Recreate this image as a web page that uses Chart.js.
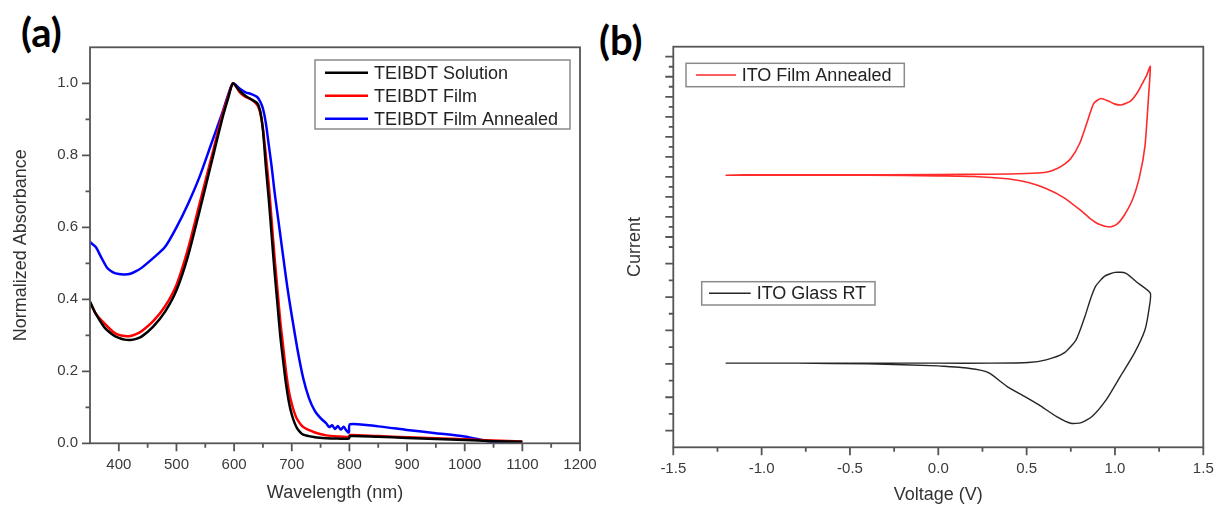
<!DOCTYPE html>
<html>
<head>
<meta charset="utf-8">
<script src="https://cdn.jsdelivr.net/npm/chart.js@4.4.1/dist/chart.umd.min.js"></script>
<style>
  body { margin: 0; background: #fff; width: 1215px; height: 506px; position: relative; overflow: hidden; }
  canvas { position: absolute; top: 0; }
  #absChart { left: 0; }
  #cvChart { left: 607px; }
  .panel { position: absolute; font-family: Lato, sans-serif; font-weight: 700; font-size: 40px; line-height: 1; color: #000; }
</style>
</head>
<body>
<div class="panel" style="left:21px; top:12px;">(a)</div>
<div class="panel" style="left:599px; top:20px;">(b)</div>
<canvas id="absChart" width="607" height="506"></canvas>
<canvas id="cvChart" width="608" height="506"></canvas>
<script>
// UV-vis absorbance (normalized)
const wavelength = [350, 360, 375, 390, 400, 410, 420, 430, 440, 460, 480, 500, 520, 540, 560, 580, 590, 598, 610, 620, 630, 640, 645, 650, 655, 660, 665, 670, 675, 680, 685, 690, 695, 700, 705, 710, 720, 740, 760, 780, 799, 801, 850, 900, 950, 1000, 1050, 1100];
const solution = [0.393, 0.36, 0.322, 0.301, 0.293, 0.288, 0.287, 0.29, 0.297, 0.325, 0.365, 0.425, 0.52, 0.645, 0.775, 0.905, 0.96, 1.0, 0.978, 0.965, 0.955, 0.945, 0.925, 0.87, 0.77, 0.68, 0.58, 0.48, 0.39, 0.3, 0.23, 0.165, 0.115, 0.08, 0.056, 0.04, 0.024, 0.017, 0.014, 0.013, 0.013, 0.02, 0.018, 0.015, 0.012, 0.009, 0.006, 0.004];
const film = [0.393, 0.36, 0.333, 0.31, 0.301, 0.298, 0.298, 0.303, 0.312, 0.34, 0.38, 0.44, 0.54, 0.665, 0.79, 0.915, 0.965, 1.0, 0.975, 0.962, 0.955, 0.94, 0.92, 0.875, 0.8, 0.72, 0.62, 0.52, 0.43, 0.34, 0.27, 0.2, 0.145, 0.11, 0.083, 0.065, 0.045, 0.03, 0.022, 0.019, 0.018, 0.023, 0.02, 0.017, 0.014, 0.011, 0.008, 0.005];

const wavelengthAnnealed = [350, 360, 370, 380, 390, 400, 410, 420, 430, 440, 460, 480, 500, 520, 540, 560, 570, 580, 590, 598, 610, 620, 630, 640, 645, 650, 655, 660, 665, 670, 675, 680, 685, 690, 695, 700, 710, 720, 730, 740, 750, 760, 765, 770, 775, 780, 785, 790, 795, 799, 801, 850, 900, 950, 1000, 1050, 1100];
const filmAnnealed = [0.559, 0.545, 0.515, 0.487, 0.475, 0.47, 0.469, 0.471, 0.478, 0.488, 0.515, 0.545, 0.6, 0.665, 0.74, 0.83, 0.875, 0.92, 0.97, 1.0, 0.985, 0.975, 0.97, 0.962, 0.95, 0.93, 0.89, 0.83, 0.77, 0.7, 0.64, 0.58, 0.52, 0.46, 0.405, 0.355, 0.26, 0.18, 0.125, 0.09, 0.07, 0.055, 0.045, 0.05, 0.04, 0.048, 0.038, 0.046, 0.035, 0.03, 0.053, 0.047, 0.037, 0.028, 0.019, 0.003, 0.0];

const wlMajor = [400, 500, 600, 700, 800, 900, 1000, 1100, 1200];
const wlMinor = [450, 550, 650, 750, 850, 950, 1050, 1150];
const absMajor = [0, 0.2, 0.4, 0.6, 0.8, 1.0];
const absMinor = [0.1, 0.3, 0.5, 0.7, 0.9];

// Cyclic voltammetry, current in arbitrary units (curves offset)
const voltAnnealed = [0.0, -0.4, -0.8, -1.2, -1.1, -0.6, 0.0, 0.3, 0.5, 0.6, 0.65, 0.7, 0.75, 0.8, 0.84, 0.88, 0.92, 0.96, 1.0, 1.04, 1.09, 1.13, 1.16, 1.18, 1.2, 1.19, 1.17, 1.14, 1.1, 1.05, 1.01, 0.97, 0.91, 0.86, 0.81, 0.71, 0.61, 0.51, 0.41, 0.3, 0.2, 0.1, 0.0];
const currAnnealed = [8.13, 8.15, 8.15, 8.15, 8.16, 8.16, 8.17, 8.18, 8.2, 8.23, 8.3, 8.43, 8.65, 9.1, 9.7, 10.3, 10.45, 10.38, 10.28, 10.26, 10.38, 10.65, 10.95, 11.15, 11.41, 10.5, 9.03, 8.13, 7.43, 6.93, 6.68, 6.6, 6.68, 6.85, 7.08, 7.48, 7.75, 7.93, 8.03, 8.08, 8.11, 8.12, 8.13];
const voltGlass = [0.0, -0.4, -0.8, -1.2, -1.0, -0.5, 0.0, 0.3, 0.51, 0.61, 0.71, 0.78, 0.83, 0.86, 0.89, 0.94, 1.0, 1.06, 1.13, 1.2, 1.195, 1.17, 1.11, 1.03, 0.95, 0.87, 0.81, 0.75, 0.67, 0.57, 0.49, 0.39, 0.29, 0.23, 0.13, 0.0];
const currGlass = [2.44, 2.5, 2.52, 2.52, 2.52, 2.52, 2.52, 2.52, 2.54, 2.62, 2.82, 3.22, 3.92, 4.42, 4.82, 5.12, 5.24, 5.22, 4.92, 4.62, 4.22, 3.52, 2.82, 2.12, 1.42, 0.92, 0.74, 0.72, 0.92, 1.27, 1.52, 1.82, 2.22, 2.32, 2.39, 2.44];

const voltMajor = [-1.5, -1.0, -0.5, 0.0, 0.5, 1.0, 1.5];
const voltMinor = [-1.25, -0.75, -0.25, 0.25, 0.75, 1.25];
const currMajor = [0.5, 1.5, 2.5, 3.5, 4.5, 5.5, 6.3, 6.9, 7.5, 8.1, 8.7, 9.3, 9.9, 10.5, 11.1, 11.7];
const currMinor = [1, 2, 3, 4, 5, 6, 6.6, 7.2, 7.8, 8.4, 9.0, 9.6, 10.2, 10.8, 11.4];

Chart.defaults.font.family = "'Liberation Sans', Arial, sans-serif";
Chart.defaults.color = '#3a3a3a';

const toXY = (xs, ys) => xs.map((x, i) => ({x: x, y: ys[i]}));

// fixed axis box, no extra room for end labels
const fitX = h => s => { s.height = h; s.paddingLeft = 0; s.paddingRight = 0; };
const fitY = w => s => { s.width = w; s.paddingTop = 0; s.paddingBottom = 0; };

// boxed frame with outward major/minor ticks
const originAxes = {
  id: 'originAxes',
  afterDraw(chart, args, opts) {
    const {ctx, chartArea: a, scales: {x, y}} = chart;
    ctx.save();
    ctx.strokeStyle = '#555';
    ctx.lineWidth = 1.8;
    ctx.strokeRect(a.left, a.top, a.right - a.left, a.bottom - a.top);
    ctx.beginPath();
    opts.xMajor.forEach(v => { const p = x.getPixelForValue(v); ctx.moveTo(p, a.bottom); ctx.lineTo(p, a.bottom + 8); });
    opts.xMinor.forEach(v => { const p = x.getPixelForValue(v); ctx.moveTo(p, a.bottom); ctx.lineTo(p, a.bottom + 4.5); });
    opts.yMajor.forEach(v => { const p = y.getPixelForValue(v); ctx.moveTo(a.left, p); ctx.lineTo(a.left - 8, p); });
    opts.yMinor.forEach(v => { const p = y.getPixelForValue(v); ctx.moveTo(a.left, p); ctx.lineTo(a.left - 4.5, p); });
    ctx.stroke();
    ctx.restore();
  }
};

// legend boxes placed inside the plot
const boxLegend = {
  id: 'boxLegend',
  afterDraw(chart, args, opts) {
    const ctx = chart.ctx;
    ctx.save();
    opts.boxes.forEach(b => {
      ctx.strokeStyle = '#8a8a8a';
      ctx.lineWidth = 1.5;
      ctx.strokeRect(b.x, b.y, b.w, b.h);
      b.items.forEach((idx, i) => {
        const ds = chart.data.datasets[idx];
        const cy = b.y + b.first + i * b.row;
        ctx.strokeStyle = ds.borderColor;
        ctx.lineWidth = ds.borderWidth;
        ctx.beginPath();
        ctx.moveTo(b.x + b.lineStart, cy);
        ctx.lineTo(b.x + b.lineEnd, cy);
        ctx.stroke();
        ctx.fillStyle = '#222';
        ctx.font = "18px 'Liberation Sans', Arial, sans-serif";
        ctx.textBaseline = 'middle';
        ctx.fillText(ds.label, b.x + b.textStart, cy + 1);
      });
    });
    ctx.restore();
  }
};

new Chart("absChart", {
  type: "line",
  data: {
    datasets: [
      { label: "TEIBDT Solution", data: toXY(wavelength, solution), borderColor: "#000000", borderWidth: 2.5 },
      { label: "TEIBDT Film", data: toXY(wavelength, film), borderColor: "#ff0000", borderWidth: 2.5 },
      { label: "TEIBDT Film Annealed", data: toXY(wavelengthAnnealed, filmAnnealed), borderColor: "#0000ff", borderWidth: 2.5 }
    ]
  },
  options: {
    responsive: false,
    animation: false,
    elements: { point: { radius: 0 }, line: { tension: 0.25 } },
    layout: { padding: { left: 0, top: 47.3, right: 27, bottom: 0 } },
    scales: {
      x: {
        type: "linear", min: 350, max: 1200,
        afterBuildTicks: s => { s.ticks = wlMajor.map(v => ({value: v})); },
        afterFit: fitX(62.7),
        grid: { display: false },
        border: { display: false },
        ticks: { font: { size: 15 }, padding: 5, maxRotation: 0, callback: v => String(v) },
        title: { display: true, text: "Wavelength (nm)", font: { size: 18 }, color: '#333', padding: { bottom: 2 } }
      },
      y: {
        min: 0, max: 1.1,
        afterBuildTicks: s => { s.ticks = absMajor.map(v => ({value: v})); },
        afterFit: fitY(90),
        grid: { display: false },
        border: { display: false },
        ticks: { font: { size: 15 }, padding: 4, callback: v => v.toFixed(1) },
        title: { display: true, text: "Normalized Absorbance", font: { size: 18 }, color: '#333', padding: { top: 10 } }
      }
    },
    plugins: {
      legend: { display: false },
      tooltip: { enabled: false },
      originAxes: { xMajor: wlMajor, xMinor: wlMinor, yMajor: absMajor, yMinor: absMinor },
      boxLegend: { boxes: [
        { x: 315, y: 60, w: 255, h: 69, first: 12.7, row: 23, lineStart: 10, lineEnd: 53, textStart: 59, items: [0, 1, 2] }
      ] }
    }
  },
  plugins: [originAxes, boxLegend]
});

new Chart("cvChart", {
  type: "line",
  data: {
    datasets: [
      { label: "ITO Film Annealed", data: toXY(voltAnnealed, currAnnealed), borderColor: "#ff2a2a", borderWidth: 1.6 },
      { label: "ITO Glass RT", data: toXY(voltGlass, currGlass), borderColor: "#262626", borderWidth: 1.4 }
    ]
  },
  options: {
    responsive: false,
    animation: false,
    elements: { point: { radius: 0 }, line: { tension: 0.2 } },
    layout: { padding: { left: 0, top: 46.7, right: 11.7, bottom: 0 } },
    scales: {
      x: {
        type: "linear", min: -1.5, max: 1.5,
        afterBuildTicks: s => { s.ticks = voltMajor.map(v => ({value: v})); },
        afterFit: fitX(58.7),
        grid: { display: false },
        border: { display: false },
        ticks: { font: { size: 15 }, padding: 5, maxRotation: 0, callback: v => v.toFixed(1) },
        title: { display: true, text: "Voltage (V)", font: { size: 18 }, color: '#333', padding: { bottom: 0 } }
      },
      y: {
        min: 0, max: 12,
        afterBuildTicks: s => { s.ticks = currMajor.map(v => ({value: v})); },
        afterFit: fitY(66.3),
        grid: { display: false },
        border: { display: false },
        ticks: { display: false },
        title: { display: true, text: "Current", font: { size: 18 }, color: '#333', padding: { top: 17 } }
      }
    },
    plugins: {
      legend: { display: false },
      tooltip: { enabled: false },
      originAxes: { xMajor: voltMajor, xMinor: voltMinor, yMajor: currMajor, yMinor: currMinor },
      boxLegend: { boxes: [
        { x: 79, y: 63.3, w: 218.3, h: 23.4, first: 11.7, row: 0, lineStart: 10, lineEnd: 50, textStart: 55.7, items: [0] },
        { x: 94.7, y: 281.7, w: 173.3, h: 23.3, first: 11.6, row: 0, lineStart: 7.3, lineEnd: 49, textStart: 55, items: [1] }
      ] }
    }
  },
  plugins: [originAxes, boxLegend]
});
</script>
</body>
</html>
